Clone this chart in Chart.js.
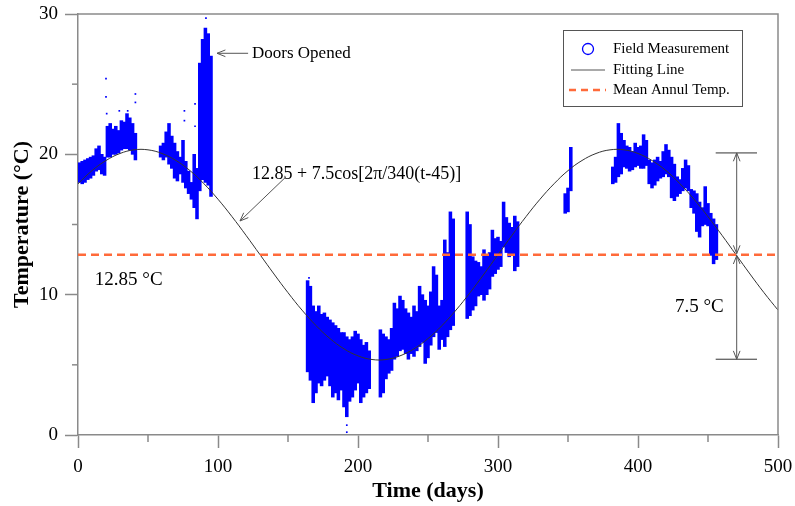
<!DOCTYPE html>
<html>
<head>
<script src="https://cdn.jsdelivr.net/npm/chart.js@4.4.0/dist/chart.umd.min.js"></script>
<style>
    body { margin: 0; background: #fff; }
    .wrap { width: 795px; height: 506px; position: relative; }
</style>
</head>
<body>
<div class="wrap"><canvas id="tempChart"></canvas></div>
<script>
// field measurements, grouped in 2-day bins: day, lowest and highest reading (°C)
const fieldDays = [1, 3, 5, 7, 9, 11, 13, 15, 17, 19, 21, 23, 25, 27, 29, 31, 33, 35, 37, 39, 41,
    59, 61, 63, 65, 67, 69, 71, 73, 75, 77, 79, 81, 83, 85, 87, 89, 91, 93, 95,
    164, 166, 168, 170, 172, 174, 176, 178, 180, 182, 184, 186, 188, 190, 192, 194, 196, 198, 200, 202, 204, 206, 208,
    216, 218, 220, 222, 224, 226, 228, 230, 232, 234, 236, 238, 240, 242, 244, 246, 248, 250, 252, 254, 256, 258, 260, 262, 264, 266, 268,
    278, 280, 282, 284, 286, 288, 290, 292, 294, 296, 298, 300, 302, 304, 306, 308, 310, 312, 314,
    348, 350, 352,
    382, 384, 386, 388, 390, 392, 394, 396, 398, 400, 402, 404, 406, 408, 410, 412, 414, 416, 418, 420, 422, 424, 426, 428, 430, 432, 434, 436, 438, 440, 442, 444, 446, 448, 450, 452, 454, 456];
const fieldLow = [18.0, 17.9, 18.0, 18.2, 18.3, 18.5, 18.8, 18.9, 18.6, 18.5, 19.8, 19.8, 20.0, 20.0, 20.1, 20.3, 20.4, 20.4, 20.3, 20.0, 19.6,
    19.8, 19.6, 19.8, 19.3, 19.0, 18.3, 18.1, 18.6, 18.0, 17.6, 17.2, 16.8, 16.2, 15.4, 17.4, 18.2, 18.0, 17.8, 17.0,
    4.5, 3.9, 2.3, 3.0, 3.7, 3.5, 3.9, 4.2, 3.5, 2.7, 3.0, 2.5, 3.2, 2.0, 1.3, 2.4, 2.7, 3.2, 3.7, 2.3, 2.7, 3.0, 3.3,
    2.7, 3.0, 4.0, 4.4, 4.6, 5.4, 5.6, 6.0, 6.1, 5.8, 5.4, 5.8, 5.6, 6.0, 6.3, 6.6, 5.1, 5.5, 6.4, 7.0, 7.3, 6.1, 6.8, 6.3, 7.0, 7.5, 7.8,
    8.3, 8.5, 8.9, 9.2, 9.9, 10.0, 9.6, 10.0, 10.4, 11.3, 11.5, 11.8, 12.0, 13.4, 13.0, 12.7, 12.9, 11.7, 12.0,
    15.8, 15.9, 17.4,
    17.9, 18.0, 18.4, 18.6, 19.1, 19.0, 18.8, 18.9, 19.1, 19.2, 19.0, 19.0, 19.2, 17.9, 17.6, 17.8, 18.1, 18.3, 18.4, 18.6, 18.4, 16.9, 16.7, 17.0, 17.2, 17.4, 17.6, 17.4, 16.2, 15.8, 14.5, 14.1, 14.9, 15.0, 14.9, 12.8, 12.2, 12.5];
const fieldHigh = [19.4, 19.5, 19.6, 19.7, 19.8, 19.9, 20.4, 20.6, 20.0, 19.8, 22.0, 22.2, 21.8, 22.0, 21.7, 22.4, 22.3, 22.9, 22.6, 22.2, 21.5,
    20.6, 20.8, 21.6, 22.2, 21.3, 20.8, 20.2, 19.8, 21.0, 19.5, 18.8, 18.0, 20.0, 19.0, 26.5, 28.2, 29.0, 28.6, 27.0,
    11.0, 10.6, 9.2, 8.8, 9.2, 8.6, 8.7, 8.4, 8.2, 8.0, 7.8, 7.6, 7.3, 7.3, 7.0, 6.8, 7.0, 7.4, 7.2, 6.8, 6.4, 6.6, 6.0,
    7.5, 7.2, 7.0, 6.8, 7.6, 9.4, 9.0, 9.9, 9.6, 9.0, 8.7, 8.4, 9.2, 8.8, 10.6, 10.0, 9.6, 9.2, 10.2, 12.0, 11.4, 9.2, 9.6, 13.9, 13.0, 15.9, 15.4,
    15.9, 15.0, 12.7, 12.4, 12.3, 12.0, 13.2, 12.8, 13.0, 14.6, 14.0, 14.1, 13.8, 16.6, 15.5, 15.1, 14.8, 15.6, 15.2,
    17.2, 17.6, 20.5,
    19.1, 19.8, 22.2, 21.5, 21.0, 20.6, 20.5, 20.2, 20.8, 20.5, 20.6, 21.4, 21.0, 19.6, 19.4, 19.6, 19.8, 19.5, 20.2, 20.7, 20.3, 19.8, 19.3, 18.4, 18.2, 19.0, 19.6, 19.2, 17.5, 17.4, 17.2, 16.6, 16.2, 17.7, 16.5, 15.8, 15.4, 15.0];

// isolated readings away from the main bands
const spotDays = [20, 20, 20.5, 29.5, 35.5, 41, 41, 76, 76, 83.6, 83.6, 91.4, 165, 192, 192];
const spotTemps = [25.4, 24.1, 22.9, 23.1, 23.1, 24.3, 23.7, 23.1, 22.4, 23.6, 22.0, 29.7, 11.2, 0.2, 0.7];

// fitting line 12.85 + 7.5cos[2π/340(t-45)], read every 10 days
const fitDays = [0, 10, 20, 30, 40, 50, 60, 70, 80, 90, 100, 110, 120, 130, 140, 150, 160, 170, 180, 190, 200,
    210, 220, 230, 240, 250, 260, 270, 280, 290, 300, 310, 320, 330, 340, 350, 360, 370, 380, 390, 400,
    410, 420, 430, 440, 450, 460, 470, 480, 490, 500];
const fitTemps = [17.90, 18.84, 19.56, 20.06, 20.32, 20.32, 20.06, 19.56, 18.84, 17.90, 16.80, 15.56, 14.23, 12.85, 11.47, 10.14, 8.90, 7.80, 6.87, 6.14, 5.64,
    5.38, 5.38, 5.64, 6.14, 6.87, 7.80, 8.90, 10.14, 11.47, 12.85, 14.23, 15.56, 16.80, 17.90, 18.84, 19.56, 20.06, 20.32, 20.32, 20.06,
    19.56, 18.84, 17.90, 16.80, 15.56, 14.23, 12.85, 11.47, 10.14, 8.90];

const meanTemp = 12.85;
const amplitudeTop = 20.1;
const amplitudeBottom = 5.4;

const serif = '"Liberation Serif", "Times New Roman", serif';
const grey = '#8a8a8a';
const blue = '#0000ff';
const orange = '#ff6a3a';

function arrowHead(ctx, fx, fy, tx, ty) {
    const ang = Math.atan2(ty - fy, tx - fx);
    const len = 9, spread = 0.38;
    ctx.beginPath();
    ctx.moveTo(tx - len * Math.cos(ang - spread), ty - len * Math.sin(ang - spread));
    ctx.lineTo(tx, ty);
    ctx.lineTo(tx - len * Math.cos(ang + spread), ty - len * Math.sin(ang + spread));
    ctx.stroke();
}

function arrow(ctx, fx, fy, tx, ty, both) {
    ctx.beginPath();
    ctx.moveTo(fx, fy);
    ctx.lineTo(tx, ty);
    ctx.stroke();
    arrowHead(ctx, fx, fy, tx, ty);
    if (both) arrowHead(ctx, tx, ty, fx, fy);
}

const extras = {
    id: 'extras',
    afterDatasetsDraw(chart) {
        const {ctx, chartArea: a, scales: {x, y}} = chart;
        ctx.save();

        // top and right frame
        ctx.strokeStyle = grey;
        ctx.lineWidth = 1.5;
        ctx.beginPath();
        ctx.moveTo(a.left, a.top);
        ctx.lineTo(a.right, a.top);
        ctx.lineTo(a.right, a.bottom);
        ctx.stroke();

        // minor ticks
        [5, 15, 25].forEach(v => {
            const py = y.getPixelForValue(v);
            ctx.beginPath(); ctx.moveTo(a.left - 6, py); ctx.lineTo(a.left, py); ctx.stroke();
        });
        [50, 150, 250, 350, 450].forEach(v => {
            const px = x.getPixelForValue(v);
            ctx.beginPath(); ctx.moveTo(px, a.bottom); ctx.lineTo(px, a.bottom + 7); ctx.stroke();
        });

        ctx.fillStyle = '#000';
        ctx.strokeStyle = '#555';
        ctx.lineWidth = 1;
        ctx.textBaseline = 'middle';
        ctx.textAlign = 'left';

        // doors opened
        arrow(ctx, x.getPixelForValue(121.5), y.getPixelForValue(27.2), x.getPixelForValue(99.3), y.getPixelForValue(27.2));
        ctx.font = '17px ' + serif;
        ctx.fillText('Doors Opened', x.getPixelForValue(124.3), y.getPixelForValue(27.2));

        // fitting equation
        ctx.font = '18px ' + serif;
        ctx.fillText('12.85 + 7.5cos[2\u03c0/340(t-45)]', x.getPixelForValue(124.3), y.getPixelForValue(18.6));
        arrow(ctx, x.getPixelForValue(148.6), y.getPixelForValue(18.4), x.getPixelForValue(115.7), y.getPixelForValue(15.25));

        // mean and amplitude labels
        ctx.font = '19px ' + serif;
        ctx.fillText('12.85 \u00b0C', x.getPixelForValue(12), y.getPixelForValue(11.05));
        ctx.fillText('7.5 \u00b0C', x.getPixelForValue(426.4), y.getPixelForValue(9.15));

        // amplitude bracket
        const bx = x.getPixelForValue(470.5);
        const l = x.getPixelForValue(455.5), r = x.getPixelForValue(485);
        const yt = y.getPixelForValue(amplitudeTop), ym = y.getPixelForValue(meanTemp), yb = y.getPixelForValue(amplitudeBottom);
        ctx.strokeStyle = '#333';
        ctx.beginPath();
        ctx.moveTo(l, yt); ctx.lineTo(r, yt);
        ctx.moveTo(l, yb); ctx.lineTo(r, yb);
        ctx.stroke();
        ctx.strokeStyle = '#555';
        arrow(ctx, bx, yt, bx, ym - 1, true);
        arrow(ctx, bx, yb, bx, ym + 1, true);

        // legend
        ctx.strokeStyle = '#555';
        ctx.lineWidth = 1;
        ctx.strokeRect(563.5, 30.5, 179, 76);
        ctx.font = '15px ' + serif;
        ctx.strokeStyle = blue;
        ctx.lineWidth = 1.3;
        ctx.beginPath(); ctx.arc(588, 49, 5.5, 0, Math.PI * 2); ctx.stroke();
        ctx.strokeStyle = '#555';
        ctx.lineWidth = 1;
        ctx.beginPath(); ctx.moveTo(571, 70); ctx.lineTo(605, 70); ctx.stroke();
        ctx.strokeStyle = orange;
        ctx.lineWidth = 2.5;
        ctx.setLineDash([7, 5]);
        ctx.beginPath(); ctx.moveTo(569, 90); ctx.lineTo(606, 90); ctx.stroke();
        ctx.setLineDash([]);
        ctx.fillText('Field Measurement', 613, 49);
        ctx.fillText('Fitting Line', 613, 70);
        ctx.fillText('Mean Annul Temp.', 613, 90);

        ctx.restore();
    }
};

const ctx = document.getElementById('tempChart').getContext('2d');
new Chart(ctx, {
    type: 'scatter',
    data: {
        datasets: [
            {
                type: 'bar',
                label: 'Field Measurement',
                data: fieldDays.map((d, i) => ({x: d, y: [fieldLow[i], fieldHigh[i]]})),
                backgroundColor: blue,
                borderWidth: 0,
                barThickness: 2.9,
                grouped: false,
                order: 4
            },
            {
                type: 'scatter',
                label: 'Field Measurement (single)',
                data: spotDays.map((d, i) => ({x: d, y: spotTemps[i]})),
                backgroundColor: blue,
                borderWidth: 0,
                pointStyle: 'rect',
                pointRadius: 1.2,
                order: 3
            },
            {
                type: 'line',
                label: 'Fitting Line',
                data: fitDays.map((d, i) => ({x: d, y: fitTemps[i]})),
                borderColor: '#333',
                borderWidth: 1,
                pointRadius: 0,
                tension: 0.4,
                fill: false,
                order: 2
            },
            {
                type: 'line',
                label: 'Mean Annul Temp.',
                data: [{x: 0, y: meanTemp}, {x: 500, y: meanTemp}],
                borderColor: orange,
                borderWidth: 2.5,
                borderDash: [8, 5],
                pointRadius: 0,
                fill: false,
                order: 1
            }
        ]
    },
    options: {
        responsive: true,
        maintainAspectRatio: false,
        animation: false,
        layout: {padding: {left: 0, right: 17, top: 14, bottom: 0}},
        plugins: {legend: {display: false}, tooltip: {enabled: false}},
        scales: {
            x: {
                type: 'linear',
                min: 0,
                max: 500,
                offset: false,
                ticks: {stepSize: 100, color: '#000', font: {family: serif, size: 19}, padding: 8, maxRotation: 0},
                grid: {drawOnChartArea: false, drawTicks: true, tickLength: 13, tickColor: grey, tickWidth: 1.5, offset: false},
                border: {display: true, color: grey, width: 1.5},
                title: {display: true, text: 'Time (days)', color: '#000', font: {family: serif, size: 22, weight: 'bold'}, padding: {top: 0, bottom: 1}},
                afterFit(s) { s.height = 71; s.paddingLeft = 0; s.paddingRight = 0; }
            },
            y: {
                type: 'linear',
                min: 0,
                max: 30,
                ticks: {stepSize: 10, color: '#000', font: {family: serif, size: 19}, padding: 7},
                grid: {drawOnChartArea: false, drawTicks: true, tickLength: 13, tickColor: grey, tickWidth: 1.5},
                border: {display: true, color: grey, width: 1.5},
                title: {display: true, text: 'Temperature (\u00b0C)', color: '#000', font: {family: serif, size: 22, weight: 'bold'}, padding: {top: 9, bottom: 0}},
                afterFit(s) { s.width = 78; s.paddingTop = 0; s.paddingBottom = 0; }
            }
        }
    },
    plugins: [extras]
});
</script>
</body>
</html>
